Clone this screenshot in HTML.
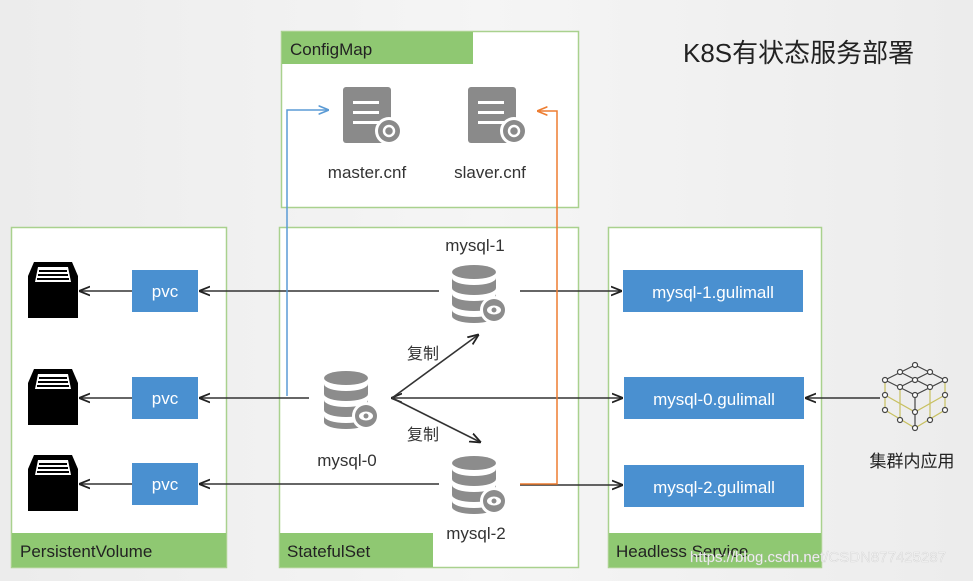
<!DOCTYPE html>
<html><head><meta charset="utf-8"><style>
html,body{margin:0;padding:0;}
body{width:973px;height:576px;overflow:hidden;background:linear-gradient(90deg,#ececec,#f5f5f5 50%,#ececec);}
text{font-family:"Liberation Sans","Noto Sans CJK SC",sans-serif;}
</style></head><body>
<svg width="973" height="576" viewBox="0 0 973 576" xmlns="http://www.w3.org/2000/svg">
<defs>
<marker id="ah" viewBox="0 0 10 10" refX="9" refY="5" markerWidth="7" markerHeight="7" orient="auto-start-reverse"><path d="M0,1 L10,5 L0,9" fill="none" stroke="#222" stroke-width="1.6"/></marker>
<marker id="ahb" viewBox="0 0 10 10" refX="9" refY="5" markerWidth="7" markerHeight="7" orient="auto"><path d="M0,1 L10,5 L0,9" fill="none" stroke="#5b9bd5" stroke-width="1.6"/></marker>
<marker id="aho" viewBox="0 0 10 10" refX="9" refY="5" markerWidth="7" markerHeight="7" orient="auto"><path d="M0,1 L10,5 L0,9" fill="none" stroke="#ed7d31" stroke-width="1.6"/></marker>
<g id="db">
 <ellipse cx="0" cy="6" rx="22" ry="7" fill="#8c8c8c"/>
 <path d="M-22,12 a22,7 0 0 0 44,0 v10 a22,7 0 0 1 -44,0z" fill="#8c8c8c"/>
 <path d="M-22,28 a22,7 0 0 0 44,0 v10 a22,7 0 0 1 -44,0z" fill="#8c8c8c"/>
 <path d="M-22,44 a22,7 0 0 0 44,0 v6 a22,7 0 0 1 -44,0z" fill="#8c8c8c"/>
 <circle cx="20" cy="44" r="14" fill="#fff"/>
 <circle cx="20" cy="44" r="11" fill="#8c8c8c"/>
 <ellipse cx="20" cy="44" rx="7" ry="4.5" fill="#fff"/>
 <circle cx="20" cy="44" r="2.5" fill="#8c8c8c"/>
</g>
<g id="doc">
 <rect x="0" y="0" width="48" height="56" rx="3" fill="#8a8a8a"/>
 <rect x="10" y="14" width="26" height="3" fill="#fff"/>
 <rect x="10" y="24" width="26" height="3" fill="#fff"/>
 <rect x="10" y="34" width="26" height="3" fill="#fff"/>
 <circle cx="46" cy="44" r="14" fill="#fff"/>
 <circle cx="46" cy="44" r="11" fill="#8a8a8a"/>
 <circle cx="46" cy="44" r="5" fill="none" stroke="#fff" stroke-width="2.5"/>
</g>
<g id="disk">
 <path d="M6,0 H44 L50,14 V56 H0 V14Z" fill="#000"/>
 <path d="M10,5 H40 L43,20 H7Z" fill="#fff"/>
 <rect x="11" y="8" width="28" height="2" fill="#000"/>
 <rect x="10" y="12" width="30" height="2" fill="#000"/>
 <rect x="9" y="16" width="32" height="2" fill="#000"/>
</g>
</defs>

<text x="683" y="62" font-size="26" fill="#222">K8S有状态服务部署</text>

<rect x="281.5" y="31.5" width="297" height="176" fill="#fff" stroke="#a9d18e" stroke-width="1.5"/>
<rect x="282" y="32" width="191" height="32" fill="#8fc872"/>
<text x="290" y="55" font-size="17" fill="#222">ConfigMap</text>
<use href="#doc" x="343" y="87"/>
<use href="#doc" x="468" y="87"/>
<text x="367" y="178" font-size="17" fill="#333" text-anchor="middle">master.cnf</text>
<text x="490" y="178" font-size="17" fill="#333" text-anchor="middle">slaver.cnf</text>

<rect x="11.5" y="227.5" width="215" height="340" fill="#fff" stroke="#a9d18e" stroke-width="1.5"/>
<rect x="12" y="533" width="214" height="34" fill="#8fc872"/>
<text x="20" y="557" font-size="17" fill="#222">PersistentVolume</text>

<rect x="279.5" y="227.5" width="299" height="340" fill="#fff" stroke="#a9d18e" stroke-width="1.5"/>
<rect x="280" y="533" width="153" height="34" fill="#8fc872"/>
<text x="287" y="557" font-size="17" fill="#222">StatefulSet</text>

<rect x="608.5" y="227.5" width="213" height="340" fill="#fff" stroke="#a9d18e" stroke-width="1.5"/>
<rect x="609" y="533" width="212" height="34" fill="#8fc872"/>
<text x="616" y="557" font-size="17" fill="#222">Headless Service</text>

<use href="#disk" x="28" y="262"/>
<use href="#disk" x="28" y="369"/>
<use href="#disk" x="28" y="455"/>

<g font-size="17" fill="#fff" text-anchor="middle">
<rect x="132" y="270" width="66" height="42" fill="#4a90d0"/><text x="165" y="297">pvc</text>
<rect x="132" y="377" width="66" height="42" fill="#4a90d0"/><text x="165" y="404">pvc</text>
<rect x="132" y="463" width="66" height="42" fill="#4a90d0"/><text x="165" y="490">pvc</text>
<rect x="623" y="270" width="180" height="42" fill="#4a90d0"/><text x="713" y="298">mysql-1.gulimall</text>
<rect x="624" y="377" width="180" height="42" fill="#4a90d0"/><text x="714" y="405">mysql-0.gulimall</text>
<rect x="624" y="465" width="180" height="42" fill="#4a90d0"/><text x="714" y="493">mysql-2.gulimall</text>
</g>

<g stroke="#333" stroke-width="1.6" fill="none">
<line x1="132" y1="291" x2="80" y2="291" marker-end="url(#ah)"/>
<line x1="132" y1="398" x2="80" y2="398" marker-end="url(#ah)"/>
<line x1="132" y1="484" x2="80" y2="484" marker-end="url(#ah)"/>
<line x1="439" y1="291" x2="200" y2="291" marker-end="url(#ah)"/>
<line x1="309" y1="398" x2="200" y2="398" marker-end="url(#ah)"/>
<line x1="439" y1="484" x2="200" y2="484" marker-end="url(#ah)"/>
<line x1="520" y1="291" x2="621" y2="291" marker-end="url(#ah)"/>
<line x1="392" y1="398" x2="622" y2="398" marker-start="url(#ah)" marker-end="url(#ah)"/>
<line x1="520" y1="485" x2="622" y2="485" marker-end="url(#ah)"/>
<line x1="392" y1="398" x2="478" y2="335" marker-end="url(#ah)"/>
<line x1="392" y1="398" x2="480" y2="442" marker-end="url(#ah)"/>
<line x1="880" y1="398" x2="806" y2="398" marker-end="url(#ah)"/>
</g>
<polyline points="287,396 287,110 328,110" fill="none" stroke="#5b9bd5" stroke-width="1.5" marker-end="url(#ahb)"/>
<polyline points="520,484 557,484 557,111 538,111" fill="none" stroke="#ed7d31" stroke-width="1.5" marker-end="url(#aho)"/>

<use href="#db" x="474" y="266"/>
<use href="#db" x="346" y="372"/>
<use href="#db" x="474" y="457"/>
<text x="475" y="251" font-size="17" fill="#333" text-anchor="middle">mysql-1</text>
<text x="347" y="466" font-size="17" fill="#333" text-anchor="middle">mysql-0</text>
<text x="476" y="539" font-size="17" fill="#333" text-anchor="middle">mysql-2</text>
<text x="407" y="359" font-size="16" fill="#333">复制</text>
<text x="407" y="440" font-size="16" fill="#333">复制</text>

<g stroke="#444" stroke-width="1.2" fill="none">
<path d="M915,365 L945,380 L915,395 L885,380Z" />
<path d="M900,372 L930,387 M930,372 L900,387"/>
<path d="M885,380 V410 L915,428 L945,410 V380" stroke="#c8c060"/>
<path d="M915,395 V428" />
<path d="M885,395 L915,412 L945,395 M900,387 V420 M930,387 V420" stroke="#c8c060"/>
</g>
<g fill="#fff" stroke="#444" stroke-width="1.2">
<circle cx="915" cy="365" r="2.5"/><circle cx="930" cy="372" r="2.5"/><circle cx="900" cy="372" r="2.5"/>
<circle cx="945" cy="380" r="2.5"/><circle cx="885" cy="380" r="2.5"/><circle cx="915" cy="380" r="2.5"/>
<circle cx="930" cy="387" r="2.5"/><circle cx="900" cy="387" r="2.5"/><circle cx="915" cy="395" r="2.5"/>
<circle cx="885" cy="395" r="2.5"/><circle cx="945" cy="395" r="2.5"/><circle cx="915" cy="412" r="2.5"/>
<circle cx="885" cy="410" r="2.5"/><circle cx="945" cy="410" r="2.5"/><circle cx="915" cy="428" r="2.5"/>
<circle cx="900" cy="420" r="2.5"/><circle cx="930" cy="420" r="2.5"/>
</g>
<text x="912" y="467" font-size="17" fill="#222" text-anchor="middle">集群内应用</text>

<text x="690" y="562" font-size="15" fill="#f4f4f4" stroke="#c8c8c8" stroke-width="0.3">https://blog.csdn.net/CSDN877425287</text>
</svg>
</body></html>
